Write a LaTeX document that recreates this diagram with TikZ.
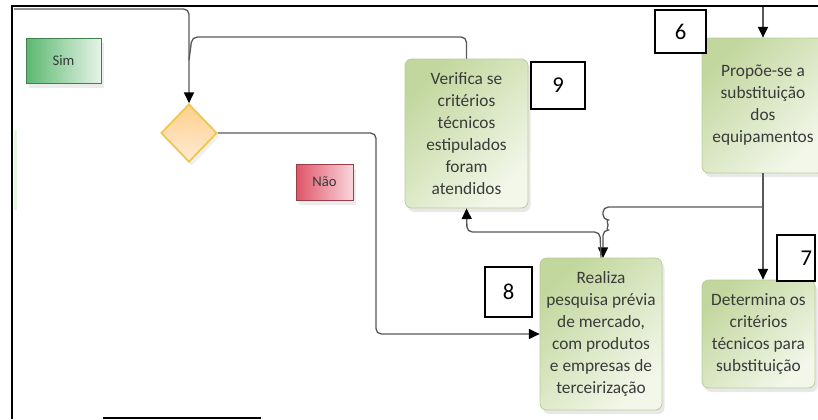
\documentclass[tikz,border=0pt]{standalone}
\usepackage{fontspec}
\setmainfont{Carlito}
\usetikzlibrary{arrows.meta,shapes.geometric,shadows}
\definecolor{boxtop}{HTML}{C2D79E}
\definecolor{boxbot}{HTML}{F3F7EA}
\definecolor{boxline}{HTML}{B9CD95}
\definecolor{simtop}{HTML}{5CB870}
\definecolor{simbot}{HTML}{E6F4E8}
\definecolor{naotop}{HTML}{DF5568}
\definecolor{naobot}{HTML}{F9D6DB}
\definecolor{dectop}{HTML}{FDD089}
\definecolor{decbot}{HTML}{FFEBD6}
\definecolor{decline}{HTML}{F0C64A}
\definecolor{flowgray}{HTML}{585858}
\definecolor{txtgray}{HTML}{3A3A3A}

\begin{document}
\begin{tikzpicture}[x=0.75pt, y=-0.75pt, >={Triangle[length=8pt,width=7.5pt,color=black]},
  every node/.style={font=\fontsize{13}{16.5}\selectfont, text=txtgray},
  procbox/.style={draw=boxline, line width=0.6pt, rounded corners=5pt, top color=boxtop, bottom color=boxbot, shading angle=45, align=center, inner sep=2pt, drop shadow={shadow xshift=2pt, shadow yshift=-3pt, opacity=0.18}},
  numbox/.style={draw=black, fill=white, line width=0.9pt, inner sep=0pt, font=\fontsize{17}{20}\selectfont, text=black},
  tagbox/.style={draw=#1!70!black, line width=0.5pt, inner sep=0pt, font=\fontsize{11}{13}\selectfont, drop shadow={shadow xshift=2pt, shadow yshift=-4pt, opacity=0.15}},
  flow/.style={draw=flowgray, line width=1pt, rounded corners=4pt}]
  \useasboundingbox (0,0) rectangle (818,419);
  \clip (0,0) rectangle (818,419);

  % frame
  \draw[line width=1.4pt] (12,419) -- (12,6) -- (818,6);
  \draw[line width=1.2pt] (103,418) -- (261,418);
  \fill[green!35!olive!12] (13.5,130) rectangle (17,210);

  % nodes
  \node[tagbox=simtop, left color=simtop, right color=simbot, minimum width=56.25pt, minimum height=33.75pt] (sim) at (63.5,60.5) {Sim};
  \node[tagbox=naotop, left color=naotop, right color=naobot, minimum width=42.75pt, minimum height=27pt] (nao) at (324.5,182) {Não};
  \node[diamond, aspect=1, draw=decline, line width=1.3pt, top color=dectop, bottom color=decbot, inner sep=0pt, minimum width=42pt, minimum height=43.5pt, drop shadow={shadow xshift=2pt, shadow yshift=-3pt, opacity=0.12}] (dec) at (189,133) {};
  \node[procbox, minimum width=92.25pt, minimum height=111.75pt] (verif) at (466.5,133.5) {Verifica se\\critérios\\técnicos\\estipulados\\foram\\atendidos};
  \node[procbox, minimum width=91.5pt, minimum height=101.25pt] (propoe) at (763,105.5) {Propõe-se a\\substituição\\dos\\equipamentos};
  \node[procbox, minimum width=84.75pt, minimum height=81pt] (determ) at (758.5,334) {Determina os\\critérios\\técnicos para\\substituição};
  \node[procbox, minimum width=91.5pt, minimum height=114pt] (pesq) at (601,334) {Realiza\\pesquisa prévia\\de mercado,\\com produtos\\e empresas de\\terceirização};

  \node[numbox, minimum width=40.5pt, minimum height=35.25pt] (n9) at (558,85.5) {9};
  \node[numbox, minimum width=38.25pt, minimum height=32.25pt] (n6) at (680.5,31.5) {6};
  \node[numbox, minimum width=28.5pt, minimum height=34.5pt, text width=24pt, align=right] (n7) at (796,258) {7};
  \node[numbox, minimum width=35.25pt, minimum height=37.5pt] (n8) at (508.5,292) {8};

  % connectors
  \coordinate (entry) at (14,9);
  \coordinate (join) at (189,60);
  \coordinate (top6) at (763,7);
  \coordinate (split) at (763,207);
  \draw[flow, ->] (entry) -| (dec.north);
  \draw[flow] (verif.north) |- (214,37) -- (192,37) -- (join);
  \draw[flow, ->] (dec.east) -- (376,133) |- (pesq.west);
  \draw[flow, ->] (top6) -- (propoe.north);
  \draw[flow, ->] (propoe.south) -- (propoe.south |- determ.north);
  \draw[flow, ->] (split) -- (603,207) -- (603,220) arc[start angle=-90, end angle=90, radius=5] -- (603,258);
  \draw[flow, ->] (pesq.north) -- (600,232) -- (467,232) -- (verif.south);
\end{tikzpicture}
\end{document}
